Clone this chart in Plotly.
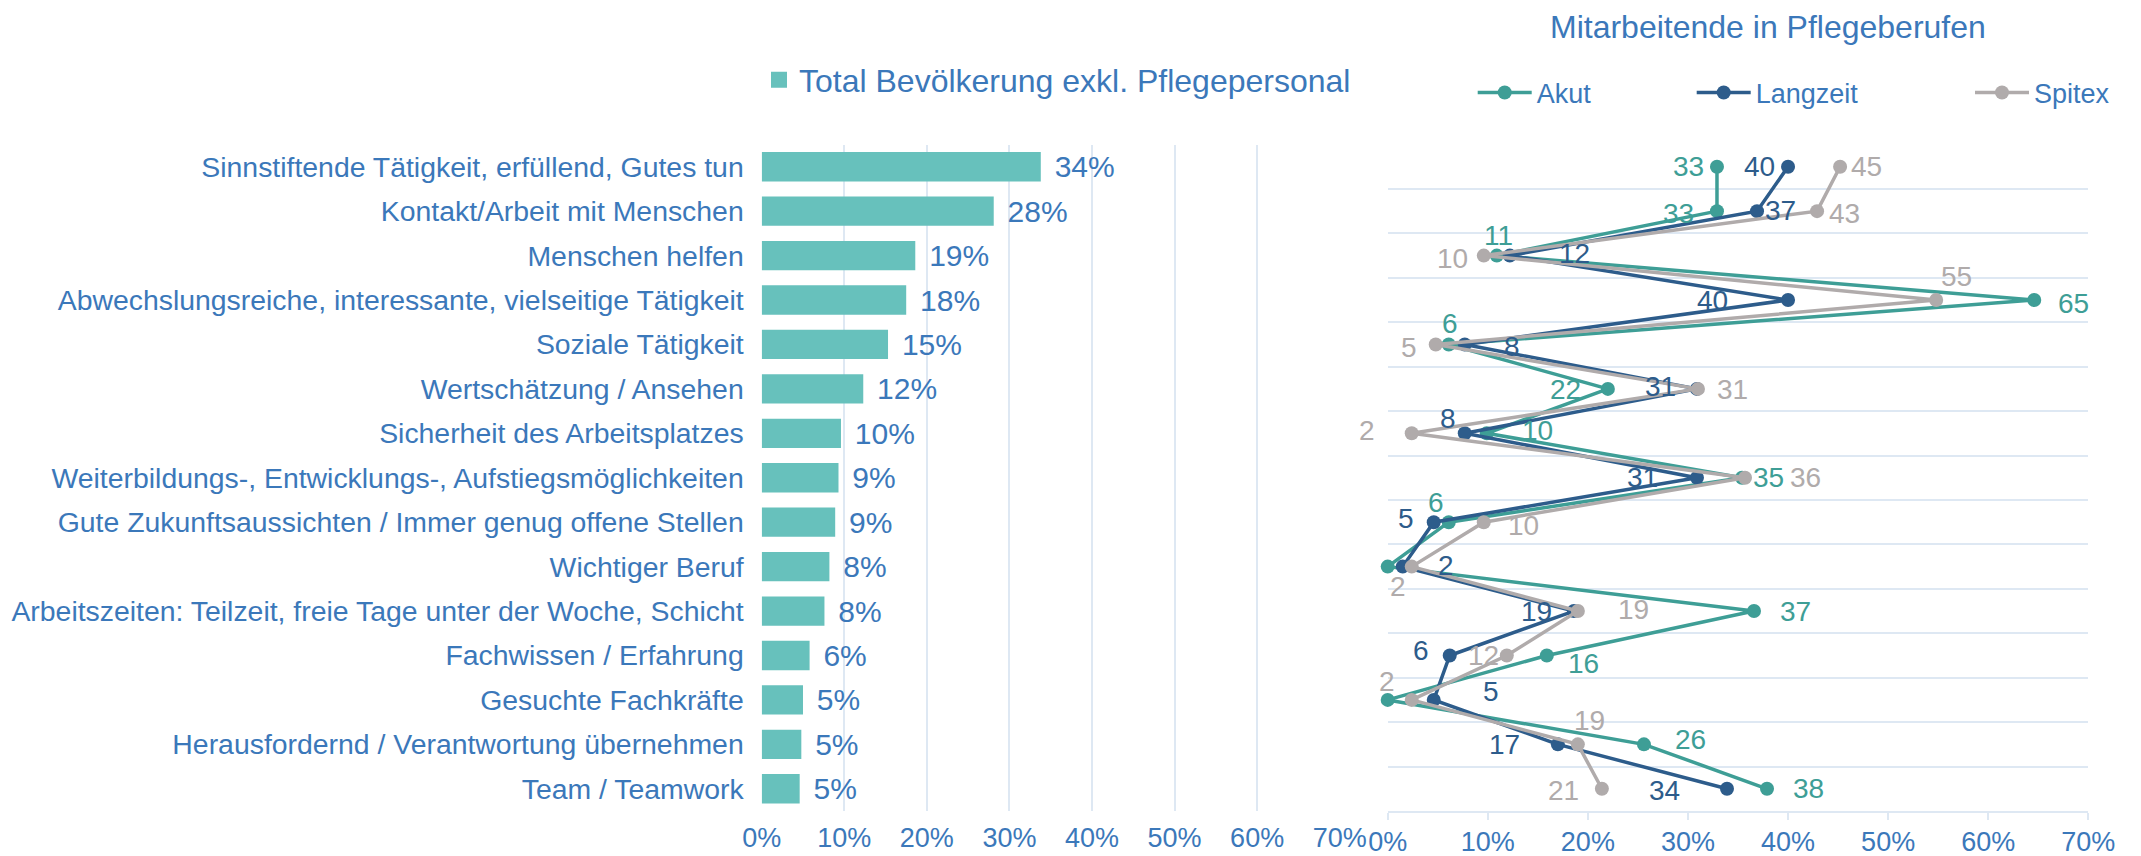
import plotly.graph_objects as go

# ---------------- data ----------------
categories = [
    "Sinnstiftende Tätigkeit, erfüllend, Gutes tun",
    "Kontakt/Arbeit mit Menschen",
    "Menschen helfen",
    "Abwechslungsreiche, interessante, vielseitige Tätigkeit",
    "Soziale Tätigkeit",
    "Wertschätzung / Ansehen",
    "Sicherheit des Arbeitsplatzes",
    "Weiterbildungs-, Entwicklungs-, Aufstiegsmöglichkeiten",
    "Gute Zukunftsaussichten / Immer genug offene Stellen",
    "Wichtiger Beruf",
    "Arbeitszeiten: Teilzeit, freie Tage unter der Woche, Schicht",
    "Fachwissen / Erfahrung",
    "Gesuchte Fachkräfte",
    "Herausfordernd / Verantwortung übernehmen",
    "Team / Teamwork",
]
total_bevoelkerung = [33.8, 28.1, 18.6, 17.5, 15.3, 12.3, 9.6, 9.3, 8.9, 8.2, 7.6, 5.8, 5.0, 4.8, 4.6]
akut = [32.9, 32.9, 10.9, 64.6, 6.1, 22.0, 9.9, 35.4, 6.1, 0.0, 36.6, 15.9, 0.0, 25.6, 37.9]
langzeit = [40.0, 36.9, 12.2, 40.0, 7.7, 30.9, 7.7, 30.9, 4.6, 1.5, 18.6, 6.2, 4.6, 17.0, 33.9]
spitex = [45.2, 42.9, 9.6, 54.8, 4.8, 31.0, 2.4, 35.7, 9.6, 2.4, 19.0, 11.9, 2.4, 19.0, 21.4]
x_ticks = [0, 10, 20, 30, 40, 50, 60, 70]
x_ticklabels = ["0%", "10%", "20%", "30%", "40%", "50%", "60%", "70%"]

# label offsets (px, dx right / dy down) for the point labels, None = no label
akut_lbl = [(-28, 0), (-38, 2), (2, -20), (39, 3), (1, -21), (-42, 1), (51, -3), (26, 0),
            (-13, -20), None, (41, 0), (37, 8), None, (47, -5), (41, 0)]
langzeit_lbl = [(-29, 0), (23, -1), (65, -2), (-76, 0), (47, 2), (-36, -2), (-17, -15), (-54, 0),
                (-28, -4), (43, -1), (-37, 0), (-29, -5), (57, -8), (-53, 0), (-62, 2)]
spitex_lbl = [(26, 0), (27, 2), (-31, 3), (20, -24), (-27, 3), (35, 1), (-45, -3), (60, 0),
              (40, 3), (-14, 20), (56, -2), (-23, 0), (-25, -18), (12, -24), (-38, 2)]

# ---------------- style ----------------
FONT = "Liberation Sans, Arial, sans-serif"
BLUE_TXT = "#3B78BA"
BAR_C = "#67C1BC"
AKUT_C = "#3E9E96"
LANG_C = "#2D5C8B"
SPIT_C = "#B0ABAB"
GRID_C = "#DEE8F3"
OFF = 8  # the page body adds an 8px margin around the figure
W, H = 2141 - OFF, 856 - OFF


def px_x(p):
    return (p - OFF) / W


def px_y(p):
    return 1 - (p - OFF) / H


y_dom = [px_y(811), px_y(144.5)]

fig = go.Figure()

# bars (left panel)
fig.add_trace(go.Bar(
    x=total_bevoelkerung, y=categories, orientation="h",
    marker=dict(color=BAR_C, line=dict(width=0)),
    text=["\u00a0\u200a" + f"{v:.0f}%" for v in total_bevoelkerung],
    textposition="outside", constraintext="none", cliponaxis=False,
    textfont=dict(size=30, color=BLUE_TXT, family=FONT),
    showlegend=False, xaxis="x", yaxis="y",
))
# legend entry for bars
fig.add_trace(go.Scatter(
    x=[None], y=[None], mode="markers", name="Total Bevölkerung exkl. Pflegepersonal",
    marker=dict(symbol="square", size=16, color=BAR_C), legend="legend",
    xaxis="x", yaxis="y",
))

series = [
    ("Akut", akut, AKUT_C, akut_lbl, "legend2"),
    ("Langzeit", langzeit, LANG_C, langzeit_lbl, "legend3"),
    ("Spitex", spitex, SPIT_C, spitex_lbl, "legend4"),
]
annotations = []
for name, vals, col, lbl, lg in series:
    fig.add_trace(go.Scatter(
        x=vals, y=categories, mode="lines+markers", name=name,
        line=dict(color=col, width=3.5), marker=dict(color=col, size=14),
        xaxis="x2", yaxis="y2", legend=lg, cliponaxis=False,
    ))
    for v, c, off in zip(vals, categories, lbl):
        if off is None:
            continue
        annotations.append(dict(
            x=v, y=c, xref="x2", yref="y2", text=f"{v:.0f}", showarrow=False,
            xanchor="center", yanchor="middle", xshift=off[0], yshift=-off[1],
            font=dict(size=28, color=col, family=FONT),
        ))

annotations.append(dict(
    x=px_x(1768), y=px_y(27), xref="paper", yref="paper",
    text="Mitarbeitende in Pflegeberufen", showarrow=False,
    xanchor="center", yanchor="middle",
    font=dict(size=32, color=BLUE_TXT, family=FONT),
))

leg_common = dict(orientation="h", yanchor="middle", xanchor="left",
                  bgcolor="rgba(0,0,0,0)", borderwidth=0)

fig.update_layout(
    width=W, height=H,
    margin=dict(l=0, r=0, t=0, b=0, autoexpand=False),
    paper_bgcolor="white", plot_bgcolor="white",
    font=dict(family=FONT, color=BLUE_TXT),
    bargap=0.34,
    xaxis=dict(
        domain=[px_x(761.7), px_x(1339.7)], range=[0, 70], anchor="y", automargin=False,
        tickvals=x_ticks, ticktext=x_ticklabels,
        showgrid=True, gridcolor=GRID_C, gridwidth=2, zeroline=False, showline=False,
        ticks="", tickfont=dict(size=27, color=BLUE_TXT), ticklabelstandoff=8,
    ),
    yaxis=dict(
        domain=y_dom, type="category", categoryarray=categories, range=[14.5, -0.5],
        anchor="x", showgrid=False, zeroline=False, showline=False, ticks="", automargin=False,
        tickfont=dict(size=28.4, color=BLUE_TXT), ticklabelstandoff=17,
    ),
    xaxis2=dict(
        domain=[px_x(1387.7), px_x(2088.3)], range=[0, 70], anchor="y2", automargin=False,
        tickvals=x_ticks, ticktext=x_ticklabels,
        showgrid=False, zeroline=False, showline=True, linecolor=GRID_C, linewidth=2,
        ticks="outside", ticklen=7, tickwidth=2, tickcolor=GRID_C,
        tickfont=dict(size=27, color=BLUE_TXT), ticklabelstandoff=-1,
    ),
    yaxis2=dict(
        domain=y_dom, type="category", categoryarray=categories, range=[14.5, -0.5],
        anchor="x2", showgrid=True, gridcolor=GRID_C, gridwidth=2, tickson="boundaries",
        showticklabels=False, ticks="", zeroline=False, showline=False, automargin=False,
    ),
    legend=dict(x=px_x(759), y=px_y(80), font=dict(size=32, color=BLUE_TXT, family=FONT),
                itemwidth=30, **leg_common),
    legend2=dict(x=px_x(1472.7), y=px_y(93), font=dict(size=27, color=BLUE_TXT, family=FONT),
                 itemwidth=54, **leg_common),
    legend3=dict(x=px_x(1691.7), y=px_y(93), font=dict(size=27, color=BLUE_TXT, family=FONT),
                 itemwidth=54, **leg_common),
    legend4=dict(x=px_x(1970), y=px_y(93), font=dict(size=27, color=BLUE_TXT, family=FONT),
                 itemwidth=54, **leg_common),
    annotations=annotations,
)

fig.write_html("out.html")
